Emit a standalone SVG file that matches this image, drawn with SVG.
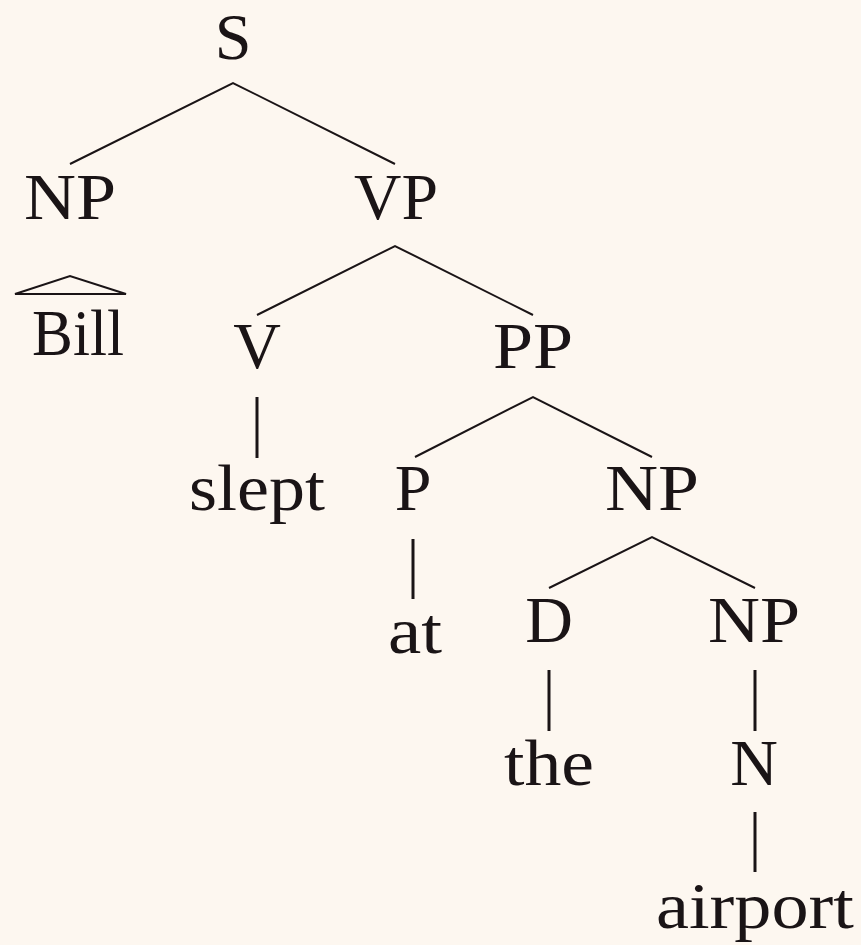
<svg xmlns="http://www.w3.org/2000/svg" width="861" height="945" viewBox="0 0 861 945">
<style>
text{font-family:"Liberation Serif","Times New Roman",serif;font-size:66px;fill:#1a1416;text-anchor:middle}
.e{stroke:#1a1416;stroke-width:2;fill:none}
.v{stroke:#1a1416;stroke-width:3;fill:none}
</style>
<rect width="861" height="945" fill="#fdf7f0"/>
<g id="connectors">
<path class="e" d="M70,164 L233,83 L395,164"/>
<path class="e" d="M257,315 L395,246 L533,315"/>
<path class="e" d="M415,457 L533,397 L652,457"/>
<path class="e" d="M549,588 L652,537 L755,588"/>
<path class="v" d="M257,397 V458"/>
<path class="v" d="M413,539 V599"/>
<path class="v" d="M549,670 V731"/>
<path class="v" d="M755,670 V731"/>
<path class="v" d="M755,812 V872"/>
<path class="e" d="M15,294 L70,276 L126,294 Z"/>
</g>
<g id="n-S"><text x="233" y="59">S</text></g>
<g id="n-NP1"><text x="70" y="219" textLength="92" lengthAdjust="spacingAndGlyphs">NP</text></g>
<g id="n-Bill"><text x="78" y="355" textLength="92" lengthAdjust="spacingAndGlyphs">Bill</text></g>
<g id="n-VP"><text x="396" y="219" textLength="84" lengthAdjust="spacingAndGlyphs">VP</text></g>
<g id="n-V"><text x="257" y="368">V</text></g>
<g id="n-PP"><text x="533" y="368" textLength="80" lengthAdjust="spacingAndGlyphs">PP</text></g>
<g id="n-slept"><text x="257" y="510" textLength="136" lengthAdjust="spacingAndGlyphs">slept</text></g>
<g id="n-P"><text x="413" y="510">P</text></g>
<g id="n-NP2"><text x="652" y="510" textLength="94" lengthAdjust="spacingAndGlyphs">NP</text></g>
<g id="n-at"><text x="415" y="653" textLength="54" lengthAdjust="spacingAndGlyphs">at</text></g>
<g id="n-D"><text x="549" y="642">D</text></g>
<g id="n-NP3"><text x="754" y="642" textLength="92" lengthAdjust="spacingAndGlyphs">NP</text></g>
<g id="n-the"><text x="549" y="785" textLength="90" lengthAdjust="spacingAndGlyphs">the</text></g>
<g id="n-N"><text x="754" y="785">N</text></g>
<g id="n-airport"><text x="755" y="928" textLength="198" lengthAdjust="spacingAndGlyphs">airport</text></g>
</svg>
